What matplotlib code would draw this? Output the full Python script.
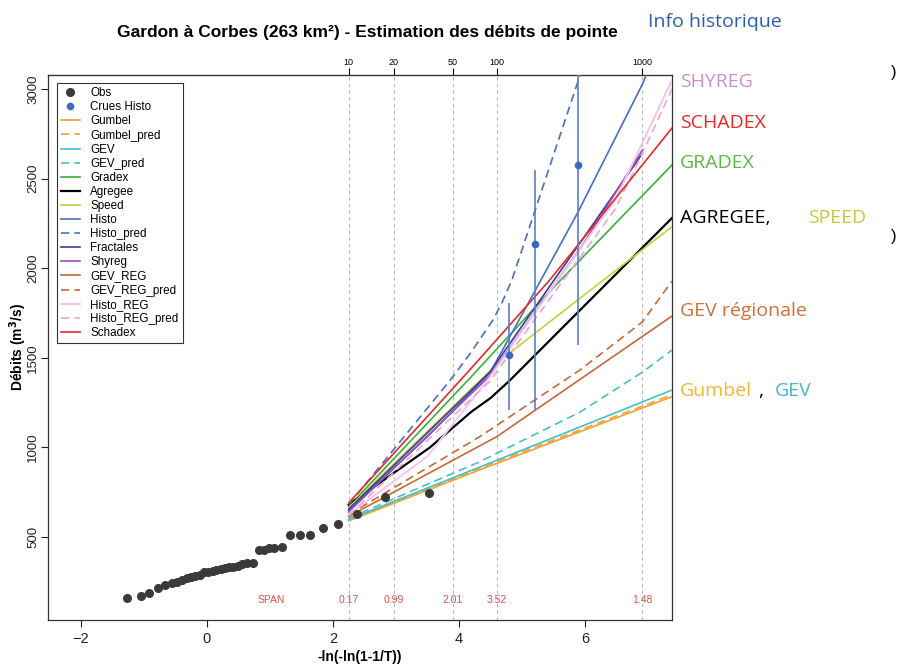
import numpy as np
import matplotlib
matplotlib.use("Agg")
import matplotlib.pyplot as plt

plt.rcParams['font.family'] = ['Liberation Sans', 'DejaVu Sans']

# Observations : variable réduite de Gumbel / débit (m3/s)
obs_x = [-1.26, -1.04, -0.91, -0.77, -0.67, -0.56, -0.48, -0.40, -0.32, -0.25,
         -0.18, -0.11, -0.04, 0.02, 0.09, 0.15, 0.22, 0.29, 0.35, 0.42,
         0.49, 0.55, 0.63, 0.74, 0.83, 0.91, 0.98, 1.06, 1.19, 1.32,
         1.48, 1.64, 1.85, 2.08, 2.39, 2.83, 3.53]
obs_y = [161, 171, 186, 214, 232, 245, 251, 260, 270, 278,
         282, 288, 303, 306, 310, 316, 321, 325, 331, 334,
         340, 348, 353, 357, 425, 429, 436, 441, 444, 514,
         514, 514, 549, 573, 630, 723, 746]

# Crues historiques (point + intervalle)
crues_x = [4.79, 5.21, 5.89]
crues_y = [1515, 2134, 2575]
crues_bas = [1209, 1209, 1571]
crues_haut = [1806, 2548, 3200]

# Périodes de retour et valeurs SPAN
periodes = [10, 20, 50, 100, 1000]
span_vals = ["0.17", "0.99", "2.01", "3.52", "1.48"]

# Courbes (variable réduite, débit)
gumbel_x = [2.25, 4.33, 7.38]
gumbel_y = [590, 875, 1283]
gumbel_pred_x = [2.25, 4.33, 6.91, 7.38]
gumbel_pred_y = [593, 885, 1230, 1295]
gev_x = [2.25, 4.33, 7.38]
gev_y = [598, 890, 1320]
gev_pred_x = [2.25, 4.33, 5.92, 6.91, 7.38]
gev_pred_y = [605, 920, 1197, 1420, 1543]
gradex_x = [2.25, 4.17, 5.52, 7.38]
gradex_y = [670, 1385, 1900, 2576]
agregee_x = [2.25, 3.54, 4.2, 4.5, 4.81, 7.38]
agregee_y = [680, 1000, 1200, 1275, 1375, 2280]
speed_x = [2.25, 4.7, 7.38]
speed_y = [665, 1498, 2232]
histo_x = [2.25, 3.5, 4.49, 5.17, 5.88, 6.92, 7.1]
histo_y = [650, 1060, 1415, 1850, 2307, 3033, 3200]
histo_pred_x = [2.25, 3.86, 4.17, 4.54, 4.68, 4.84, 6.0]
histo_pred_y = [680, 1375, 1520, 1711, 1806, 1934, 3160]
fractales_x = [2.25, 4.49, 6.91]
fractales_y = [655, 1420, 2640]
shyreg_x = [2.25, 4.49, 6.0, 6.91]
shyreg_y = [640, 1400, 2150, 2660]
gev_reg_x = [2.25, 4.6, 7.38]
gev_reg_y = [615, 1060, 1733]
gev_reg_pred_x = [2.25, 4.33, 5.92, 6.91, 7.38]
gev_reg_pred_y = [625, 1060, 1432, 1700, 1928]
histo_reg_x = [2.25, 3.5, 4.49, 5.5, 6.48, 7.38]
histo_reg_y = [625, 950, 1393, 1900, 2380, 3050]
histo_reg_pred_x = [2.25, 4.49, 6.48, 6.91, 7.38]
histo_reg_pred_y = [620, 1370, 2330, 2640, 3000]
schadex_x = [2.25, 4.17, 5.44, 7.38]
schadex_y = [690, 1432, 1934, 2782]

fig = plt.figure(figsize=(9, 6.66), dpi=100)
ax = fig.add_axes([48/900, 1-620/666, 624/900, 545/666])

# lignes verticales aux périodes de retour
xT = [-np.log(-np.log(1 - 1/T)) for T in periodes]
for xv in xT:
    ax.axvline(xv, color="#b8b8b8", ls=(0, (3, 3)), lw=0.8, zorder=0)

ax.plot(obs_x, obs_y, "o", color="#3a3a3a", ms=5.5, label="Obs", zorder=5)
ax.vlines(crues_x, crues_bas, crues_haut, color="#5a7fc8", lw=1.2, zorder=4)
ax.plot(crues_x, crues_y, "o", color="#3d68c0", ms=4.5, label="Crues Histo", zorder=5)

orange = "#f5a033"
cyan = "#45c0c8"
brun = "#c8683a"
courbes = [
    (gumbel_x, gumbel_y, "Gumbel", orange, "-", 1.2),
    (gumbel_pred_x, gumbel_pred_y, "Gumbel_pred", orange, "--", 1.2),
    (gev_x, gev_y, "GEV", cyan, "-", 1.2),
    (gev_pred_x, gev_pred_y, "GEV_pred", cyan, "--", 1.2),
    (gradex_x, gradex_y, "Gradex", "#3cae3c", "-", 1.2),
    (agregee_x, agregee_y, "Agregee", "black", "-", 1.6),
    (speed_x, speed_y, "Speed", "#c5d23c", "-", 1.2),
    (histo_x, histo_y, "Histo", "#4670c4", "-", 1.2),
    (histo_pred_x, histo_pred_y, "Histo_pred", "#4670c4", "--", 1.2),
    (fractales_x, fractales_y, "Fractales", "#3f3a96", "-", 1.2),
    (shyreg_x, shyreg_y, "Shyreg", "#9550bf", "-", 1.2),
    (gev_reg_x, gev_reg_y, "GEV_REG", brun, "-", 1.2),
    (gev_reg_pred_x, gev_reg_pred_y, "GEV_REG_pred", brun, "--", 1.2),
    (histo_reg_x, histo_reg_y, "Histo_REG", "#f2c6e8", "-", 1.4),
    (histo_reg_pred_x, histo_reg_pred_y, "Histo_REG_pred", "#eaa6d2", "--", 1.2),
    (schadex_x, schadex_y, "Schadex", "#e62a2a", "-", 1.2),
]
for xs, ys, nom, col, st, lw in courbes:
    if st == "--":
        st = (0, (5, 3))
    ax.plot(xs, ys, color=col, ls=st, lw=lw, label=nom, zorder=3)

# textes SPAN
ax.text(1.03, 148, "SPAN", color="#e05050", fontsize=7.5, ha="center", va="center")
for xv, s in zip(xT, span_vals):
    ax.text(xv, 148, s, color="#e05050", fontsize=7.5, ha="center", va="center")

ax.set_xlim(-2.52, 7.38)
ax.set_ylim(37, 3078)
ax.set_xticks([-2, 0, 2, 4, 6])
ax.set_yticks([500, 1000, 1500, 2000, 2500, 3000])
ax.set_yticklabels(["500", "1000", "1500", "2000", "2500", "3000"],
                   rotation=90, va="center")
ax.tick_params(labelsize=10.5, length=5, width=0.8, colors="#222222")
ax.tick_params(axis="y", labelsize=9.5, pad=1.5)
for sp in ax.spines.values():
    sp.set_linewidth(0.9)
    sp.set_color("#333333")

top = ax.secondary_xaxis("top")
top.set_xticks(xT)
top.set_xticklabels([str(T) for T in periodes])
top.tick_params(labelsize=6.5, length=5, pad=1)

ax.set_xlabel("-ln(-ln(1-1/T))", fontsize=10, fontweight="bold", labelpad=3)
ax.set_ylabel("Débits (m$^\\mathbf{3}$/s)", fontsize=10, fontweight="bold")
ax.yaxis.set_label_coords(-0.031, 0.5)
fig.text(367/900, 1-33/666, "Gardon à Corbes (263 km²) - Estimation des débits de pointe",
         ha="center", va="center", fontsize=12.5, fontweight="bold")

leg = ax.legend(loc="upper left", bbox_to_anchor=(0.0144, 0.985), fontsize=8.4,
                frameon=True, fancybox=False, edgecolor="black", borderpad=0.35,
                labelspacing=0.18, handlelength=1.6, handletextpad=0.9,
                borderaxespad=0)
leg.get_frame().set_linewidth(0.8)

# annotations à droite
ann = dict(fontsize=14, family=["Open Sans", "DejaVu Sans"], va="center", ha="left")
fig.text(648/900, 1-22/666, "Info historique", color="#2d5fb0", **ann)
fig.text(680/900, 1-82/666, "SHYREG", color="#d08fc8", **ann)
fig.text(680/900, 1-123/666, "SCHADEX", color="#e82828", **ann)
fig.text(680/900, 1-163/666, "GRADEX", color="#5ab848", **ann)
fig.text(680/900, 1-218/666, "AGREGEE,", color="black", **ann)
fig.text(808/900, 1-218/666, "SPEED", color="#c8c83c", **ann)
fig.text(680/900, 1-311/666, "GEV régionale", color="#d0703a", **ann)
fig.text(680/900, 1-391/666, "Gumbel", color="#f5b830", **ann)
fig.text(758/900, 1-391/666, ",", color="black", **ann)
fig.text(775/900, 1-391/666, "GEV", color="#3cb8c8", **ann)
fig.text(891/900, 1-72/666, ")", color="black", fontsize=12, ha="left", va="center")
fig.text(891/900, 1-237/666, ")", color="black", fontsize=12, ha="left", va="center")

fig.savefig("out.png", dpi=100)
